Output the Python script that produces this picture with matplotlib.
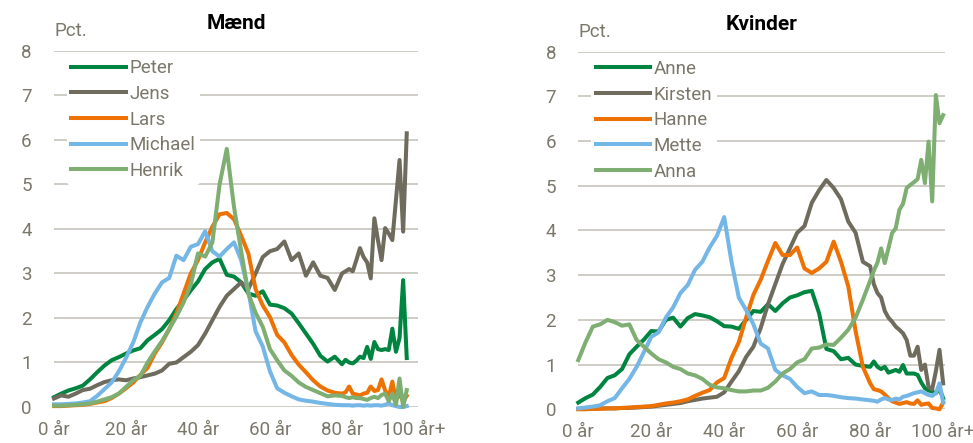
import matplotlib
matplotlib.use("Agg")
import matplotlib.pyplot as plt

plt.rcParams['font.family'] = ['Roboto', 'DejaVu Sans']

# ages on the x axis (step 2 up to 80, then every year)
ages_m = list(range(0, 81, 2)) + list(range(81, 99))
ages_k = list(range(0, 81, 2)) + list(range(81, 101))

peter = [0.22, 0.3, 0.37, 0.42, 0.48, 0.62, 0.78, 0.93, 1.05, 1.12, 1.2, 1.27, 1.32, 1.5, 1.62, 1.75,
         1.95, 2.2, 2.4, 2.62, 2.82, 3.1, 3.25, 3.33, 2.97, 2.93, 2.8, 2.55, 2.5, 2.6, 2.3, 2.28,
         2.22, 2.1, 1.88, 1.65, 1.42, 1.15, 1.02, 1.13, 0.96,
         1.06, 1.0, 0.98, 1.04, 1.13, 1.1, 1.35, 1.08, 1.46, 1.3, 1.28, 1.3, 1.28, 1.76, 1.24, 1.55, 2.85, 1.1]
jens = [0.19, 0.26, 0.23, 0.3, 0.38, 0.41, 0.49, 0.56, 0.6, 0.62, 0.6, 0.64, 0.67, 0.71, 0.75, 0.82,
        0.97, 1.0, 1.12, 1.24, 1.39, 1.65, 1.95, 2.25, 2.5, 2.65, 2.8, 2.65, 3.0, 3.37, 3.5, 3.55,
        3.72, 3.3, 3.45, 2.95, 3.25, 2.95, 2.9, 2.63, 3.0,
        3.05, 3.1, 3.05, 3.3, 3.57, 3.37, 3.25, 2.89, 4.24, 3.75, 3.3, 4.02, 3.9, 3.75, 4.65, 5.55, 3.94, 6.15]
lars = [0.02, 0.02, 0.03, 0.04, 0.05, 0.07, 0.1, 0.13, 0.2, 0.3, 0.42, 0.55, 0.72, 0.88, 1.2, 1.45,
        1.75, 2.1, 2.55, 3.0, 3.3, 3.7, 4.05, 4.33, 4.36, 4.22, 3.85, 3.45, 2.65, 2.28, 2.02, 1.62,
        1.45, 1.17, 0.95, 0.78, 0.6, 0.46, 0.37, 0.32, 0.3,
        0.33, 0.46, 0.3, 0.28, 0.26, 0.3, 0.32, 0.46, 0.36, 0.38, 0.62, 0.37, 0.22, 0.57, 0.15, 0.3, 0.12, 0.25]
michael = [0.06, 0.06, 0.07, 0.08, 0.1, 0.13, 0.25, 0.4, 0.55, 0.8, 1.1, 1.45, 1.9, 2.25, 2.55, 2.8,
           2.9, 3.4, 3.3, 3.6, 3.66, 3.95, 3.5, 3.38, 3.55, 3.7, 3.3, 2.6, 1.7, 1.36, 0.8, 0.42,
           0.32, 0.24, 0.17, 0.14, 0.12, 0.09, 0.07, 0.05, 0.04,
           0.04, 0.04, 0.03, 0.04, 0.04, 0.03, 0.04, 0.03, 0.04, 0.04, 0.03, 0.05, 0.08, 0.04, 0.02, 0.0, 0.0, 0.02]
henrik = [0.03, 0.03, 0.04, 0.05, 0.06, 0.08, 0.12, 0.17, 0.22, 0.3, 0.45, 0.6, 0.7, 1.0, 1.25, 1.48,
          1.75, 2.03, 2.35, 2.75, 3.45, 3.38, 3.7, 5.0, 5.8, 4.5, 3.5, 2.55, 2.12, 1.8, 1.3, 1.05,
          0.82, 0.7, 0.55, 0.45, 0.38, 0.31, 0.24, 0.26, 0.25,
          0.22, 0.2, 0.22, 0.2, 0.2, 0.18, 0.16, 0.2, 0.23, 0.2, 0.27, 0.3, 0.13, 0.3, 0.05, 0.64, 0.0, 0.38]

anne = [0.15, 0.25, 0.33, 0.5, 0.7, 0.76, 0.9, 1.23, 1.4, 1.56, 1.75, 1.74, 2.0, 2.05, 1.85, 2.04,
        2.13, 2.1, 2.06, 1.97, 1.86, 1.85, 1.8, 2.0, 2.2, 2.18, 2.35, 2.2, 2.37, 2.5, 2.55, 2.62,
        2.65, 2.15, 1.35, 1.3, 1.12, 1.15, 1.0, 0.97, 0.95,
        1.07, 0.95, 0.9, 0.95, 0.82, 0.85, 0.88, 0.84, 0.99, 0.8, 0.8, 0.8, 0.77, 0.6, 0.47, 0.42, 0.4, 0.36, 0.45, 0.25]
kirsten = [0.01, 0.01, 0.01, 0.02, 0.02, 0.02, 0.03, 0.03, 0.04, 0.05, 0.06, 0.08, 0.1, 0.12, 0.14, 0.18,
           0.21, 0.24, 0.26, 0.28, 0.38, 0.62, 0.85, 1.17, 1.4, 1.82, 2.35, 2.8, 3.25, 3.6, 3.95, 4.1,
           4.62, 4.9, 5.13, 4.95, 4.7, 4.2, 3.95, 3.3, 3.2,
           2.8, 2.6, 2.5, 2.2, 2.05, 1.96, 1.85, 1.78, 1.7, 1.55, 1.2, 1.2, 1.4, 0.88, 1.0, 0.5, 0.45, 0.85, 1.33, 0.58]
hanne = [0.0, 0.0, 0.01, 0.01, 0.02, 0.02, 0.03, 0.04, 0.05, 0.06, 0.07, 0.1, 0.13, 0.15, 0.18, 0.22,
         0.3, 0.37, 0.43, 0.6, 0.7, 1.15, 1.5, 2.05, 2.56, 2.9, 3.32, 3.72, 3.45, 3.45, 3.62, 3.15,
         3.05, 3.15, 3.3, 3.75, 3.3, 2.75, 1.75, 0.95, 0.58,
         0.45, 0.43, 0.4, 0.33, 0.25, 0.18, 0.15, 0.12, 0.14, 0.16, 0.13, 0.12, 0.2, 0.1, 0.12, 0.13, 0.03, 0.02, 0.0, 0.15]
mette = [0.02, 0.04, 0.06, 0.09, 0.18, 0.25, 0.47, 0.68, 0.95, 1.28, 1.62, 1.72, 2.05, 2.28, 2.6, 2.78,
         3.12, 3.3, 3.62, 3.88, 4.3, 3.3, 2.5, 2.22, 1.9, 1.47, 1.36, 0.88, 0.76, 0.68, 0.5, 0.36,
         0.4, 0.32, 0.32, 0.3, 0.27, 0.25, 0.24, 0.22, 0.2,
         0.19, 0.17, 0.22, 0.25, 0.22, 0.21, 0.24, 0.22, 0.28, 0.3, 0.33, 0.36, 0.38, 0.4, 0.36, 0.32, 0.3, 0.36, 0.58, 0.15]
anna = [1.1, 1.5, 1.85, 1.9, 2.0, 1.95, 1.87, 1.9, 1.55, 1.4, 1.25, 1.12, 1.05, 0.95, 0.9, 0.8,
        0.76, 0.68, 0.55, 0.49, 0.47, 0.43, 0.4, 0.4, 0.42, 0.42, 0.48, 0.62, 0.8, 0.9, 1.05, 1.12,
        1.36, 1.38, 1.45, 1.44, 1.6, 1.78, 2.05, 2.45, 2.88,
        3.1, 3.28, 3.6, 3.27, 3.6, 3.94, 4.05, 4.46, 4.6, 4.95, 5.02, 5.08, 5.15, 5.58, 5.06, 5.99, 4.65, 7.03, 6.4, 6.58]

x_ticks = [0, 20, 40, 60, 80, 100]
x_labels = ["0 år", "20 år", "40 år", "60 år", "80 år", "100 år+"]

colors = ['#008540', '#6F6C5D', '#EE7203', '#74B6E6', '#7EAE72']
txt_grey = '#7B786B'

fig = plt.figure(figsize=(9.73, 4.43), dpi=100)
ax1 = fig.add_axes([0.0555, 0.0813, 0.374, 0.8036])
ax2 = fig.add_axes([0.5943, 0.0761, 0.3769, 0.8072])

panels = [
    (ax1, ages_m, [peter, jens, lars, michael, henrik],
     ["Peter", "Jens", "Lars", "Michael", "Henrik"], "Mænd", 101.1),
    (ax2, ages_k, [anne, kirsten, hanne, mette, anna],
     ["Anne", "Kirsten", "Hanne", "Mette", "Anna"], "Kvinder", 100.5),
]

for ax, ages, series, names, title, xmax in panels:
    for vals, name, c in zip(series, names, colors):
        ax.plot(ages, vals, color=c, lw=2.9, label=name, clip_on=False,
                solid_joinstyle='round', zorder=3)
    ax.set_xlim(0, xmax)
    ax.set_ylim(0, 8)
    ax.set_yticks(range(0, 9))
    ax.set_xticks(x_ticks)
    ax.set_xticklabels(x_labels)
    ax.grid(axis='y', color='#CAC8BF', lw=1.3, zorder=0)
    ax.set_axisbelow(True)
    for s in ax.spines.values():
        s.set_visible(False)
    ax.tick_params(axis='both', length=0, labelsize=13.5, colors=txt_grey)
    ax.tick_params(axis='y', pad=16)
    ax.tick_params(axis='x', pad=10)
    ax.text(0, 1.042, "Pct.", transform=ax.transAxes, ha='left', va='baseline',
            fontsize=13.5, color=txt_grey)
    ax.text(0.5, 1.076, title, transform=ax.transAxes, ha='center', va='center',
            fontsize=15, fontweight='bold', color='black')
    leg = ax.legend(loc='upper left', bbox_to_anchor=(0.035, 0.99), borderaxespad=0,
                    frameon=True, facecolor='white', edgecolor='none', framealpha=1,
                    fontsize=13.5, labelcolor=txt_grey, handlelength=2.9,
                    handletextpad=0.2, labelspacing=0.41, borderpad=0.25)
    leg.set_zorder(4)

fig.savefig("out.png", dpi=100)
